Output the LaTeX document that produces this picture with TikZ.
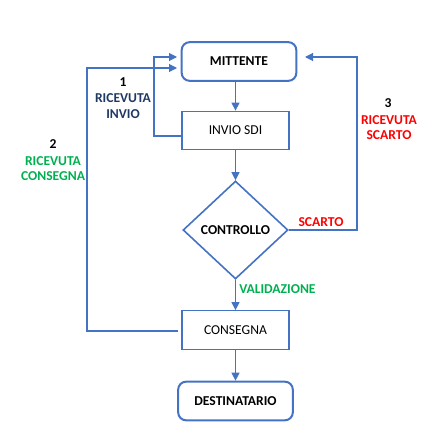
\documentclass[tikz,border=0pt]{standalone}
\usepackage{fontspec}
\setmainfont{Carlito}
\usetikzlibrary{shapes.geometric,arrows.meta,calc}
\definecolor{lineblue}{HTML}{4472C4}
\definecolor{navy}{HTML}{1F3864}
\definecolor{okgreen}{HTML}{00B050}
\definecolor{errred}{HTML}{FF0000}
\begin{document}
\begin{tikzpicture}[x=0.75pt,y=-0.75pt,
  every node/.style={font=\fontsize{10.2}{12}\selectfont, inner sep=0pt},
  endbox/.style={draw=lineblue, line width=1.5pt, rounded corners=6pt, minimum width=86pt, minimum height=29pt, font=\fontsize{10.2}{12}\selectfont\bfseries},
  procbox/.style={draw=lineblue, line width=0.8pt, minimum width=80.25pt, minimum height=29pt},
  decbox/.style={draw=lineblue, line width=1.2pt, diamond, minimum width=78.75pt, minimum height=73.5pt, font=\fontsize{10.2}{12}\selectfont\bfseries},
  conn/.style={draw=lineblue, line width=0.8pt},
  arr/.style={conn, -{Triangle[length=6pt,width=6pt]}},
  lbl/.style={font=\fontsize{10.2}{11.4}\selectfont\bfseries, align=center}
]
\useasboundingbox (0,0) rectangle (438,446);
\node[endbox] (mitt) at (239,61.5) {MITTENTE};
\node[procbox] (invio) at (235.5,130.5) {INVIO SDI};
\node[decbox] (ctrl) at (235.5,230) {CONTROLLO};
\node[procbox] (cons) at (235.5,330) {CONSEGNA};
\node[endbox] (dest) at (235.5,401) {DESTINATARIO};

\draw[arr] (235.5,81) -- (invio.north);
\draw[arr] (invio.south) -- (ctrl.north);
\draw[arr] (ctrl.south) -- (cons.north);
\draw[arr] (cons.south) -- (dest.north);

% loop 1
\coordinate (l1s) at (182,136);
\coordinate (l1e) at (177,57);
\draw[arr] (l1s) -- (154,136) -- (154,57) -- (l1e);
% loop 2
\coordinate (l2s) at (178,331);
\coordinate (l2e) at (177,68);
\draw[arr] (l2s) -- (87,331) -- (87,68) -- (l2e);
% loop 3
\coordinate (l3e) at (305,57);
\draw[arr] (ctrl.east) -- (357,230) -- (357,57) -- (l3e);

\node[lbl] (n1) at (123,82) {\textcolor{black}{1}};
\node[lbl, text=navy] (t1) at (123,106) {RICEVUTA\\INVIO};
\node[lbl] (n2) at (53,144) {\textcolor{black}{2}};
\node[lbl, text=okgreen] (t2) at (53,168.5) {RICEVUTA\\CONSEGNA};
\node[lbl] (n3) at (388,103) {\textcolor{black}{3}};
\node[lbl, text=errred] (t3) at (389,127.5) {RICEVUTA\\SCARTO};
\node[lbl, text=errred] (sc) at (321,222) {SCARTO};
\node[lbl, text=okgreen, anchor=west] (val) at (239,289) {VALIDAZIONE};
\end{tikzpicture}
\end{document}
